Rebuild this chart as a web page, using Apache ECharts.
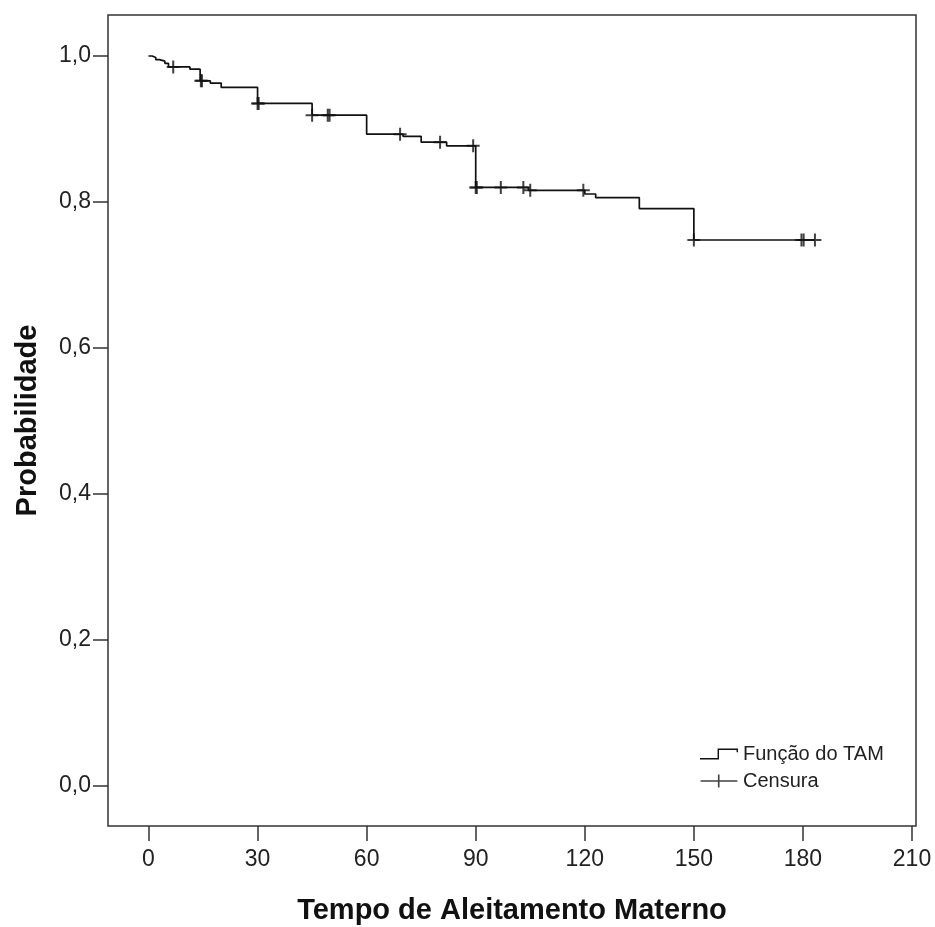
<!DOCTYPE html>
<html>
<head>
<meta charset="utf-8">
<script src="https://cdn.jsdelivr.net/npm/echarts@6/dist/echarts.min.js"></script>
<style>
  html, body { margin: 0; padding: 0; background: #fff; }
  #chart { width: 935px; height: 927px; }
</style>
</head>
<body>
<div id="chart"></div>
<script>
// Kaplan-Meier step curve (time in days, survival probability)
var stepTimes = [0, 1, 2, 3, 4.5, 5.5, 11.4, 14.2, 17, 20, 30, 45, 60, 70, 75, 82, 90, 104.5, 120, 123, 135, 150, 183.3];
var stepSurv  = [1.000, 0.998, 0.995, 0.993, 0.990, 0.985, 0.982, 0.966, 0.963, 0.957, 0.935, 0.919, 0.893, 0.890, 0.882, 0.877, 0.820, 0.816, 0.811, 0.806, 0.791, 0.748, 0.748];

// censored observations
var censorTimes = [6.8, 14.4, 14.7, 30, 30.3, 45, 49.3, 49.8, 69.2, 80.2, 89.3, 90, 90.3, 96.9, 103.1, 105, 119.6, 150, 179.6, 180.2, 183.3];
var censorSurv  = [0.985, 0.966, 0.966, 0.935, 0.935, 0.919, 0.919, 0.919, 0.893, 0.882, 0.877, 0.820, 0.820, 0.820, 0.820, 0.816, 0.816, 0.748, 0.748, 0.748, 0.748];

var xTicks = [0, 30, 60, 90, 120, 150, 180, 210];
var yTicks = [0, 0.2, 0.4, 0.6, 0.8, 1.0];

var FONT = '"Liberation Sans", Arial, sans-serif';
var plusPath = 'path://M5.5,0H7.5V5.5H13V7.5H7.5V13H5.5V7.5H0V5.5H5.5Z';
var stepIcon = 'path://M0,10H18.5V0H40V4H38.5V1.5H20V11.5H0Z';
var censIcon = 'path://M0,5.25H16V0H17.5V5.25H34V6.75H17.5V12H16V6.75H0Z';

var lineData = stepTimes.map(function (t, i) { return [t, stepSurv[i]]; });
var censData = censorTimes.map(function (t, i) { return [t, censorSurv[i]]; });

var myChart = echarts.init(document.getElementById('chart'), null, { renderer: 'canvas' });
var option = {
    backgroundColor: '#fff',
    animation: false,
    grid: {
        left: 108, right: 19, top: 15, bottom: 101,
        outerBoundsMode: 'none',
        containLabel: false,
        show: true, borderColor: '#333', borderWidth: 1.5, backgroundColor: '#fff'
    },
    legend: {
        orient: 'vertical',
        left: 700, top: 744,
        padding: 0,
        itemWidth: 38, itemHeight: 13, itemGap: 7,
        textStyle: { fontFamily: FONT, fontSize: 20, color: '#222', lineHeight: 20 },
        data: [
            { name: 'Função do TAM', icon: stepIcon },
            { name: 'Censura', icon: censIcon }
        ]
    },
    xAxis: {
        type: 'value',
        min: -11.14, max: 211.1,
        name: 'Tempo de Aleitamento Materno',
        nameLocation: 'middle',
        nameGap: 70,
        nameTextStyle: { fontFamily: FONT, fontSize: 29, fontWeight: 'bold', color: '#111' },
        axisLine: { show: false, onZero: false },
        splitLine: { show: false },
        axisTick: { show: true, length: 15, customValues: xTicks, lineStyle: { color: '#333', width: 1.5 } },
        axisLabel: { customValues: xTicks, margin: 22, fontFamily: FONT, fontSize: 23, color: '#222' }
    },
    yAxis: {
        type: 'value',
        min: -0.0548, max: 1.0562,
        name: 'Probabilidade',
        nameLocation: 'middle',
        nameGap: 66,
        nameTextStyle: { fontFamily: FONT, fontSize: 29, fontWeight: 'bold', color: '#111' },
        axisLine: { show: false, onZero: false },
        splitLine: { show: false },
        axisTick: { show: true, length: 15, customValues: yTicks, lineStyle: { color: '#333', width: 1.5 } },
        axisLabel: {
            customValues: yTicks, margin: 17, fontFamily: FONT, fontSize: 23, color: '#222',
            formatter: function (v) { return v.toFixed(1).replace('.', ','); }
        }
    },
    series: [{
        name: 'Função do TAM',
        type: 'line',
        step: 'end',
        showSymbol: false,
        symbol: 'none',
        itemStyle: { color: '#111' },
        lineStyle: { color: '#111', width: 1.7 },
        data: lineData
    }, {
        name: 'Censura',
        type: 'scatter',
        symbol: plusPath,
        symbolSize: 13,
        itemStyle: { color: '#111' },
        data: censData
    }]
};
myChart.setOption(option);
</script>
</body>
</html>
